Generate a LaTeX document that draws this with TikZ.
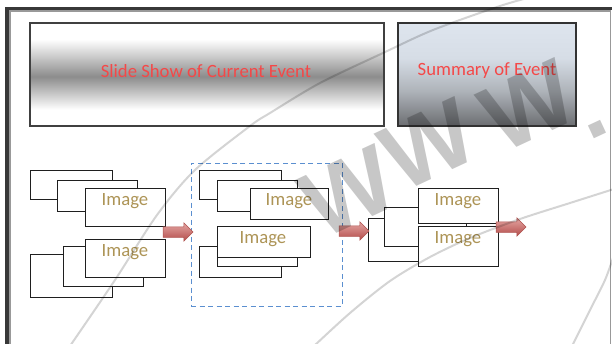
\documentclass[tikz,border=0pt]{standalone}
\usepackage{fontspec}
\setmainfont{Carlito}
\newfontfamily\wmfont{Liberation Sans}
\usetikzlibrary{shapes.arrows}
\definecolor{redcol}{HTML}{F44848}
\definecolor{imgcol}{HTML}{AD9456}
\definecolor{dashcol}{HTML}{5B8FD0}
\definecolor{slidemid}{HTML}{8C8C8C}
\definecolor{sumtop}{HTML}{DEE5EE}
\definecolor{sumup}{HTML}{D6DDE6}
\definecolor{summid}{HTML}{AEB3B9}
\definecolor{sumbot}{HTML}{6C6E72}
\definecolor{arrtop}{HTML}{E4A6A4}
\definecolor{arrbot}{HTML}{B34C49}
\definecolor{arrdraw}{HTML}{B0524F}
\pgfdeclareverticalshading{slideshade}{100bp}{color(0bp)=(white); color(25bp)=(white); color(33bp)=(white); color(49bp)=(slidemid); color(67bp)=(white); color(75bp)=(white); color(100bp)=(white)}
\pgfdeclareverticalshading{sumshade}{100bp}{color(0bp)=(sumbot); color(25bp)=(sumbot); color(42bp)=(summid); color(58bp)=(sumup); color(75bp)=(sumtop); color(100bp)=(sumtop)}
\newcommand\ibox[5]{\node[box, minimum width={(#4-#2)*1pt}, minimum height={(#5-#3)*1pt}] (#1) at (#2,#3) {};}
\begin{document}
\begin{tikzpicture}[x=1pt,y=-1pt,
  every node/.style={inner sep=0pt, outer sep=0pt},
  box/.style={draw=black!88, line width=0.9pt, fill=white, anchor=north west},
  bigbox/.style={draw=black!75, line width=1.3pt, anchor=north west},
  imgtext/.style={text=imgcol, font=\fontsize{18.7}{22}\selectfont},
  redtext/.style={text=redcol, font=\fontsize{18.7}{22}\selectfont},
  blockarrow/.style={single arrow, single arrow head extend=4pt, inner ysep=5pt, inner xsep=0pt,
     minimum height=30pt, top color=arrtop, bottom color=arrbot, draw=arrdraw, line width=0.5pt, anchor=west},
  wmline/.style={draw=black, opacity=0.17, line width=2pt},
  wmletter/.style={rotate=25, text=black, opacity=0.22, font=\wmfont\bfseries\fontsize{95}{95}\selectfont}
]
\useasboundingbox (0,0) rectangle (612,343);
\fill[white] (0,0) rectangle (612,343);
% frame
\draw[line width=3.4pt, black!78] (7,8.4) rectangle (614.5,360);
\draw[line width=1.4pt, black!40] (10,11) rectangle (610.5,360);
% top boxes
\node[bigbox, shading=slideshade, minimum width=354pt, minimum height=103pt] (slide) at (30,23) {};
\node[bigbox, draw=black!80, shading=sumshade, minimum width=178pt, minimum height=103pt] (summary) at (398,23) {};
\node[redtext] (tslide) at (206,71) {Slide Show of Current Event};
\node[redtext] (tsum) at (487,71) {Summary of Event};
% left group
\ibox{a1}{30}{170}{112}{199}
\ibox{a2}{57}{180}{137}{211}
\ibox{a3}{85}{188}{165}{226}
\ibox{b1}{30}{254}{112}{297}
\ibox{b2}{63}{246}{143}{286}
\ibox{b3}{85}{239}{165}{277}
\node[imgtext] (ta3) at (125,201) {Image};
\node[imgtext] (tb3) at (125,252) {Image};
% middle group
\node[draw=dashcol, line width=1pt, dash pattern=on 5pt off 3.5pt, anchor=north west,
      minimum width=151pt, minimum height=143pt] (dbox) at (191,163) {};
\ibox{c1}{199}{170}{281}{199}
\ibox{c2}{217}{180}{297}{211}
\ibox{c3}{250}{188}{328}{219}
\ibox{d1}{199}{246}{281}{277}
\ibox{d2}{217}{236}{297}{266}
\ibox{d3}{217}{226}{310}{257}
\node[imgtext] (tc3) at (289,201) {Image};
\node[imgtext] (td3) at (263,239) {Image};
% right group
\ibox{f2}{368}{218}{466}{261}
\ibox{f1}{384}{207}{466}{246}
\ibox{e1}{418}{188}{498}{223.5}
\ibox{e2}{418}{226.5}{498}{266}
\node[imgtext] (te1) at (458,201) {Image};
\node[imgtext] (te2) at (458,239) {Image};
% block arrows
\node[blockarrow] (ar1) at (163,232) {};
\node[blockarrow] (ar2) at (339,231) {};
\node[blockarrow] (ar3) at (496,227) {};
% watermark
\node[wmletter] (wm1) at (348,192) {W};
\node[wmletter] (wm2) at (428,145) {W};
\node[wmletter] (wm3) at (528,106) {W};
\node[wmletter] (wm4) at (597,130) {.};
\draw[wmline] plot[smooth] coordinates {(70,346) (115,280) (157,215) (195,170) (250,126) (270,113) (320,83) (383,53) (433,30) (500,6) (535,-4)};
\draw[wmline] plot[smooth] coordinates {(314,346) (350,313) (390,281) (430,257) (470,238) (520,219) (570,203) (614,189)};
\draw[wmline] plot[smooth] coordinates {(572,346) (590,310) (605,280) (614,255)};
\end{tikzpicture}
\end{document}
